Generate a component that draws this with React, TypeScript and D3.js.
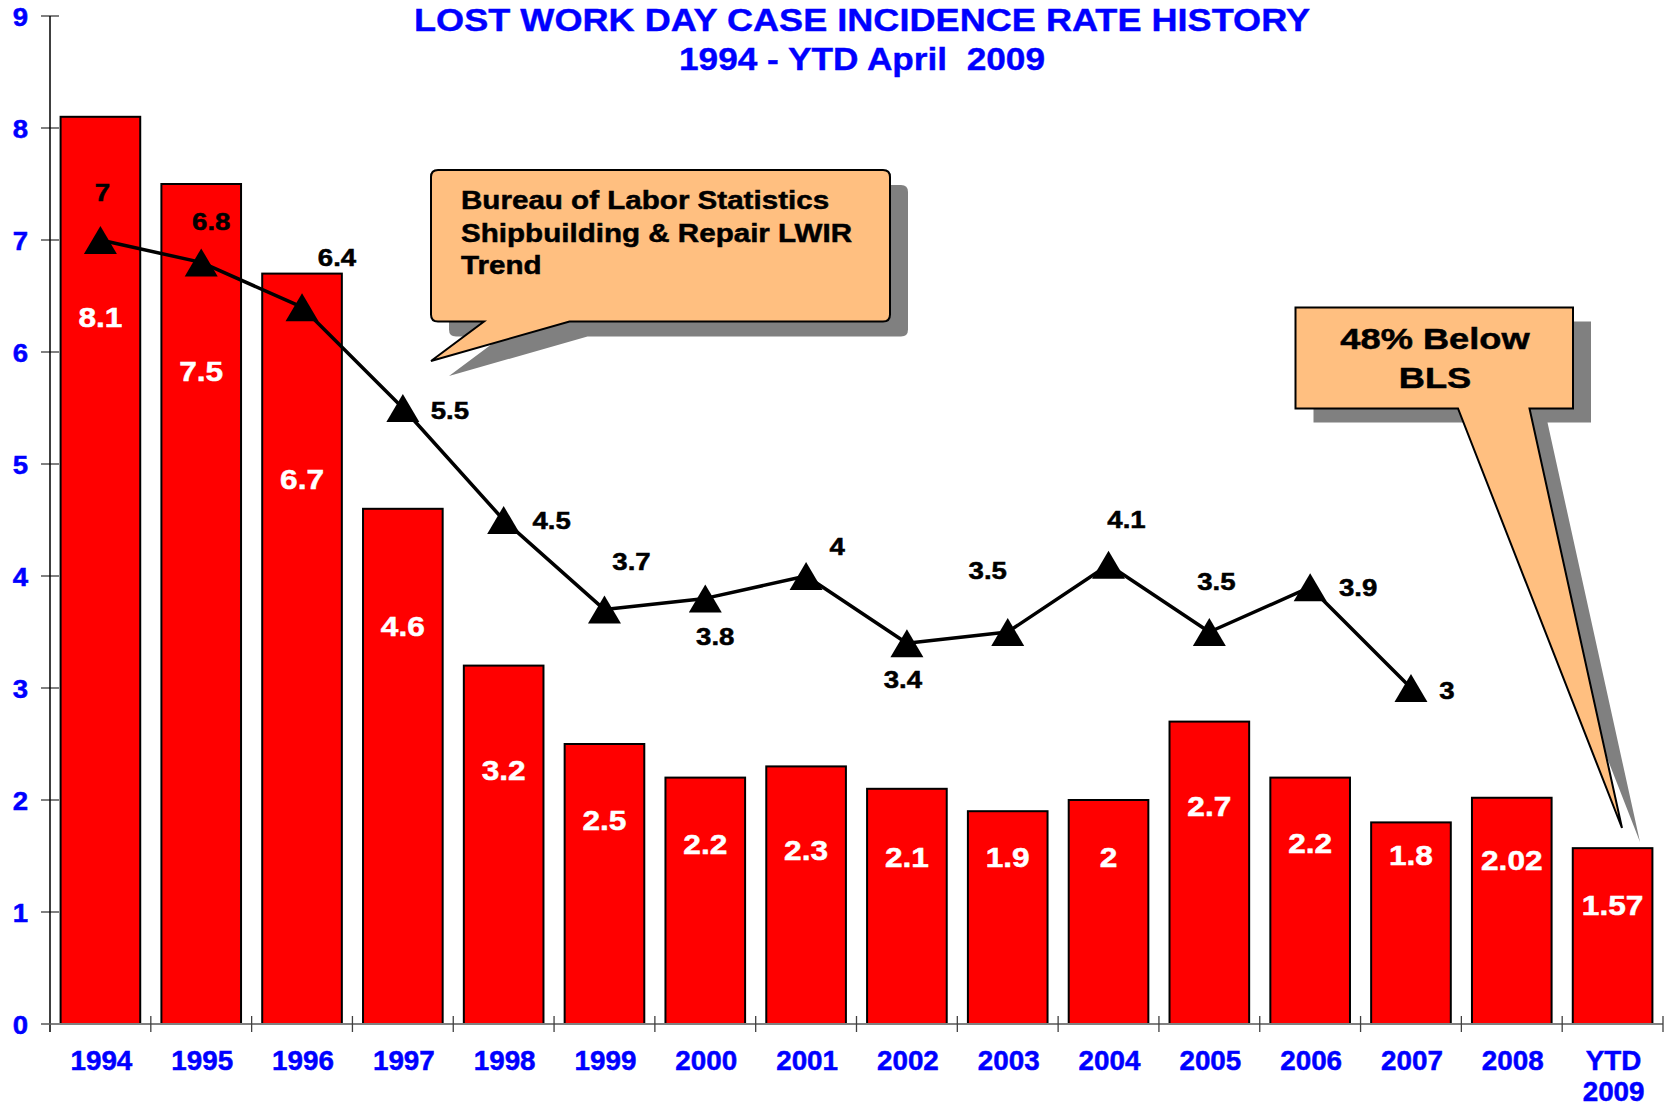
import React from "react";
import * as d3 from "d3";

// ---- data ----
const categories = [
  "1994", "1995", "1996", "1997", "1998", "1999", "2000", "2001",
  "2002", "2003", "2004", "2005", "2006", "2007", "2008", "YTD 2009",
];
// company lost work day case incidence rate (bars)
const companyRate = [8.1, 7.5, 6.7, 4.6, 3.2, 2.5, 2.2, 2.3, 2.1, 1.9, 2.0, 2.7, 2.2, 1.8, 2.02, 1.57];
// Bureau of Labor Statistics shipbuilding & repair LWIR trend (line)
const blsRate = [7, 6.8, 6.4, 5.5, 4.5, 3.7, 3.8, 4, 3.4, 3.5, 4.1, 3.5, 3.9, 3];
const yTicks = [0, 1, 2, 3, 4, 5, 6, 7, 8, 9];

const titleLines = ["LOST WORK DAY CASE INCIDENCE RATE HISTORY", "1994 - YTD April  2009"];
const blsNote = ["Bureau of Labor Statistics", "Shipbuilding & Repair LWIR", "Trend"];
const belowNote = ["48% Below", "BLS"];

// where the white value labels sit inside the bars (in rate units)
const barLabelAt = [6.31, 5.83, 4.87, 3.55, 2.27, 1.82, 1.61, 1.55, 1.49, 1.49, 1.49, 1.95, 1.62, 1.51, 1.46, 1.06];
// hand-placed offsets of the trend labels from their markers (px)
const lineLabelOffset: [number, number][] = [
  [2, -48], [10, -41], [35, -50], [47, 2], [48, 0], [27, -48], [10, 38],
  [31, -30], [-4, 36], [-20, -62], [18, -45], [7, -51], [48, 0], [36, 2],
];

const W = 1669;
const H = 1106;
const FONT = "'Liberation Sans', Arial, Helvetica, sans-serif";
const BLUE = "#0000FF";

const x = d3.scaleBand<string>().domain(categories).range([50, 1663]).paddingInner(0.21).paddingOuter(0.105);
const y = d3.scaleLinear().domain([0, 9]).range([1024, 16]);

// bold Arial-like text, stretched wide like the original slide
function SText({ x, y, size, sx = 1, anchor = "middle", fill = "#000", children }: any) {
  return (
    <text
      transform={`translate(${x},${y}) scale(${sx},1)`}
      textAnchor={anchor}
      fontFamily={FONT}
      fontWeight="bold"
      fontSize={size}
      fill={fill}
      stroke={fill}
      strokeWidth={0.5}
      style={{ whiteSpace: "pre" }}
    >
      {children}
    </text>
  );
}

export default function App() {
  const cx = (i: number) => (x(categories[i]) as number) + x.bandwidth() / 2;
  const line = d3
    .line<number>()
    .x((_, i) => cx(i))
    .y((d) => y(d));
  const tri = "M0,-14L16.5,14L-16.5,14Z";

  const step = x.step();
  const boundaries = d3.range(categories.length + 1).map((k) => 50 + k * step);

  // callout shapes (annotation layout)
  const r = 7;
  const note1 = `M${431 + r},170H${890 - r}Q890,170 890,${170 + r}V${321.5 - r}Q890,321.5 ${890 - r},321.5H569.5L431,361L484,321.5H${431 + r}Q431,321.5 431,${321.5 - r}V${170 + r}Q431,170 ${431 + r},170Z`;
  const note2 = "M1295.5,307.5H1573V408.5H1529.5L1622,828L1458,408.5H1295.5Z";

  return (
    <svg width={W} height={H} style={{ position: "absolute", left: 0, top: 0, background: "#fff" }}>
      <rect x={0} y={0} width={W} height={H} fill="#fff" />

      {/* title */}
      <text x={862} y={31} textAnchor="middle" fontFamily={FONT} fontWeight="bold" fontSize={32} fill={BLUE}
        stroke={BLUE} strokeWidth={0.4} textLength={896} lengthAdjust="spacingAndGlyphs">{titleLines[0]}</text>
      <text x={862} y={70} textAnchor="middle" fontFamily={FONT} fontWeight="bold" fontSize={32} fill={BLUE}
        stroke={BLUE} strokeWidth={0.4} textLength={366} lengthAdjust="spacingAndGlyphs"
        style={{ whiteSpace: "pre" }}>{titleLines[1]}</text>

      {/* y axis */}
      {yTicks.map((t) => (
        <g key={t}>
          <line x1={41} x2={59} y1={y(t)} y2={y(t)} stroke="#808080" strokeWidth={2} />
          <SText x={28} y={y(t) + 9.5} size={26} sx={1.06} anchor="end" fill={BLUE}>{String(t)}</SText>
        </g>
      ))}
      <line x1={50} x2={50} y1={y(9)} y2={y(0) + 8} stroke="#000" strokeWidth={1.5} />

      {/* bars */}
      {companyRate.map((v, i) => (
        <rect key={i} x={x(categories[i])} y={y(v)} width={x.bandwidth()} height={y(0) - y(v)}
          fill="#FF0000" stroke="#000" strokeWidth={2} />
      ))}

      {/* x axis */}
      <line x1={41} x2={1663} y1={y(0)} y2={y(0)} stroke="#808080" strokeWidth={2} />
      {boundaries.map((bx, k) => (
        <line key={k} x1={bx} x2={bx} y1={y(0) - 8} y2={y(0) + 8} stroke="#404040" strokeWidth={1.3} />
      ))}
      {categories.map((c, i) =>
        c.split(" ").map((part, j) => (
          <SText key={c + j} x={cx(i) + 1} y={1070 + j * 31} size={27} sx={1.03} fill={BLUE}>{part}</SText>
        ))
      )}

      {/* bar value labels */}
      {companyRate.map((v, i) => (
        <SText key={i} x={cx(i)} y={y(barLabelAt[i]) + 10} size={28} sx={1.13} fill="#fff">{String(v)}</SText>
      ))}

      {/* BLS trend */}
      <path d={line(blsRate) || ""} fill="none" stroke="#000" strokeWidth={3.5} strokeLinejoin="round" />
      {blsRate.map((v, i) => (
        <path key={i} d={tri} transform={`translate(${cx(i)},${y(v)})`} fill="#000" />
      ))}
      {blsRate.map((v, i) => (
        <SText key={i} x={cx(i) + lineLabelOffset[i][0]} y={y(v) + lineLabelOffset[i][1] + 8.5}
          size={23} sx={1.2}>{String(v)}</SText>
      ))}

      {/* callout: BLS trend */}
      <path d={note1} transform="translate(18,15)" fill="#808080" />
      <path d={note1} fill="#FFBF80" stroke="#000" strokeWidth={2} />
      {blsNote.map((s, k) => (
        <SText key={k} x={461} y={209 + k * 32.5} size={25.5} sx={1.16} anchor="start">{s}</SText>
      ))}

      {/* callout: 48% below */}
      <path d={note2} transform="translate(18,14)" fill="#808080" />
      <path d={note2} fill="#FFBF80" stroke="#000" strokeWidth={2} />
      {belowNote.map((s, k) => (
        <SText key={k} x={1435} y={349 + k * 39} size={29} sx={1.25}>{s}</SText>
      ))}
    </svg>
  );
}
